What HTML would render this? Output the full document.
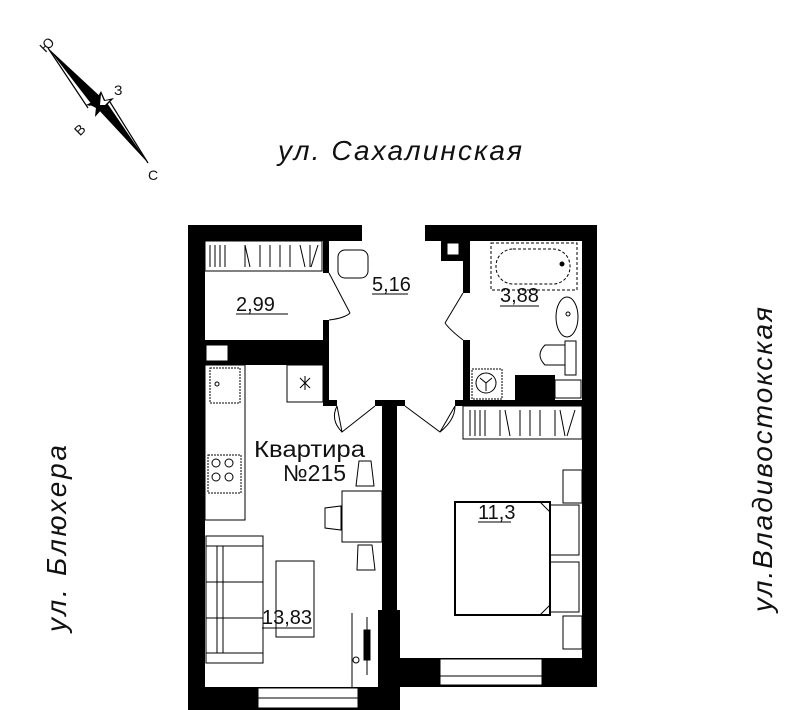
<!DOCTYPE html>
<html><head><meta charset="utf-8"><style>
html,body{margin:0;padding:0;background:#fff;width:804px;height:710px;overflow:hidden}
svg{display:block}
text{font-family:"Liberation Sans",sans-serif;fill:#111}
</style></head><body>
<svg width="804" height="710" viewBox="0 0 804 710" xmlns="http://www.w3.org/2000/svg">
<!-- compass -->
<g>
<polygon points="48,48 104,100 96,110" fill="#000"/>
<line x1="48" y1="48" x2="88" y2="108" stroke="#000" stroke-width="1.2"/>
<polygon points="148,163 97,108 105,100" fill="#000"/>
<line x1="148" y1="163" x2="110" y2="102" stroke="#000" stroke-width="1.2"/>
<polygon points="101,91 105,100 114,98 107,105 111,114 102,109 95,117 96,107 86,105 96,100" fill="#000"/>
<polygon points="101,94 104,101 110,100 105,105 100,105" fill="#fff"/>
<polygon points="90,105 96,108 95,113" fill="#fff"/>
<text x="40" y="52" font-size="14" transform="rotate(-45 44 46)">Ю</text>
<text x="114" y="95" font-size="14">З</text>
<text x="74" y="134" font-size="14" transform="rotate(-45 80 128)">В</text>
<text x="148" y="180" font-size="14">С</text>
</g>
<!-- street names -->
<text x="278" y="160" font-size="28" font-style="italic" textLength="244" lengthAdjust="spacing">ул. Сахалинская</text>
<text transform="translate(66,632) rotate(-90)" font-size="28" font-style="italic" textLength="187" lengthAdjust="spacing">ул. Блюхера</text>
<text transform="translate(772,612) rotate(-90)" font-size="28" font-style="italic" textLength="305" lengthAdjust="spacing">ул.Владивостокская</text>

<!-- walls -->
<g fill="#000">
<rect x="188" y="225" width="174" height="16"/>
<rect x="425" y="225" width="172" height="16"/>
<rect x="188" y="225" width="17" height="485"/>
<rect x="582" y="225" width="15" height="462"/>
<rect x="188" y="687" width="190" height="23"/>
<rect x="397" y="658" width="200" height="29"/>
<rect x="382" y="402" width="15" height="308"/>
<rect x="378" y="610" width="22" height="100"/>
<rect x="205" y="340" width="120" height="25"/>
<rect x="323" y="241" width="6" height="32"/>
<rect x="323" y="320" width="6" height="84"/>
<rect x="463" y="241" width="7" height="52"/>
<rect x="463" y="340" width="7" height="66"/>
<rect x="463" y="400" width="119" height="6"/>
<rect x="515" y="375" width="40" height="25"/>
<rect x="441" y="241" width="24" height="20"/>
<rect x="323" y="400" width="14" height="6"/>
<rect x="375" y="400" width="30" height="6"/>
<rect x="455" y="400" width="10" height="6"/>
</g>
<!-- windows -->
<g fill="#fff" stroke="#000" stroke-width="1">
<rect x="206" y="345" width="22" height="16"/>
<rect x="258" y="688" width="100" height="20"/>
<rect x="440" y="659" width="102" height="26"/>
<rect x="555" y="380" width="26" height="18"/>
<rect x="447" y="243" width="12" height="12"/>
</g>
<line x1="258" y1="698" x2="358" y2="698" stroke="#000"/>
<line x1="440" y1="676" x2="542" y2="676" stroke="#000"/>
<g stroke="#000" stroke-width="1" fill="none">
<rect x="205" y="241" width="117" height="30"/>
<path d="M210,245v22M215,245v22M220,245v22M225,245v22M245,245v22M260,245v22M270,245v22M280,245v22M290,245v22M310,245v22M245,245l5,22M300,245l5,22M318,245l-7,22"/>
<rect x="463" y="406" width="119" height="33"/>
<path d="M470,410v26M475,410v26M480,410v26M485,410v26M500,410v26M520,410v26M530,410v26M540,410v26M505,410l5,26M555,410v26M575,410l-8,26M560,410l5,26"/>
<rect x="338" y="250" width="30" height="28" rx="7"/>
<path d="M329,273 L350,313 M329,320 Q345,318 350,313"/>
<path d="M463,293 L445,323 M463,340 Q450,330 445,323"/>
<path d="M337,406 L342,432 L375,406 M342,432 Q330,420 337,406"/>
<path d="M405,406 L440,432 L455,406 M440,432 Q455,420 455,406"/>
<rect x="205" y="365" width="40" height="155"/>
<rect x="210" y="368" width="30" height="35" stroke-dasharray="2,1"/>
<circle cx="217" cy="384" r="2"/>
<rect x="208" y="455" width="33" height="38" stroke-dasharray="2,1"/>
<circle cx="216" cy="463" r="4"/><circle cx="229" cy="463" r="4"/><circle cx="216" cy="477" r="4"/><circle cx="229" cy="477" r="4"/>
<rect x="287" y="365" width="36" height="37"/>
<path d="M300,378l10,10M310,378l-10,10M305,376v14"/>
<rect x="342" y="491" width="40" height="51"/>
<path d="M359,461h12l3,25h-18z M325,508v20l16,2v-24z M358,545h14l3,25h-18z"/>
<rect x="206" y="536" width="57" height="10"/>
<rect x="206" y="546" width="57" height="107"/>
<rect x="206" y="653" width="57" height="10"/>
<path d="M217,546v107M223,546v107M206,582h57M206,618h57"/>
<rect x="276" y="561" width="38" height="76"/>
<path d="M352,613v75 M367,617v58"/>
<rect x="364" y="630" width="6" height="30" fill="#000"/>
<circle cx="356" cy="660" r="3"/>
<rect x="491" y="243" width="86" height="47" stroke-dasharray="3,2"/>
<rect x="496" y="249" width="74" height="35" rx="17" stroke-dasharray="3,2"/>
<circle cx="562" cy="264" r="2" fill="#000"/>
<ellipse cx="567" cy="317" rx="11" ry="20"/>
<circle cx="568" cy="314" r="2"/>
<path d="M565,341h11v34h-11z M565,345h-20q-10,10 0,20h20"/>
<rect x="472" y="369" width="30" height="30" stroke-dasharray="2,1"/>
<circle cx="486" cy="383" r="10"/>
<path d="M486,383v8M486,383l-6,-5M486,383l6,-5"/>
<rect x="455" y="502" width="95" height="113" stroke-width="2"/>
<path d="M540,502l10,10 M540,615l10,-10"/>
<rect x="550" y="505" width="29" height="50"/><rect x="550" y="562" width="29" height="50"/>
<rect x="563" y="470" width="19" height="33"/><rect x="563" y="616" width="19" height="33"/>
<path d="M236,314h52 M372,294h36 M500,306h39 M478,522h33 M262,628h50"/>
</g>
<text x="236" y="311" font-size="20">2,99</text>
<text x="372" y="291" font-size="20">5,16</text>
<text x="500" y="302" font-size="20">3,88</text>
<text x="478" y="519" font-size="20">11,3</text>
<text x="262" y="624" font-size="20">13,83</text>
<text x="254" y="457" font-size="23" textLength="111" lengthAdjust="spacingAndGlyphs">Квартира</text>
<text x="283" y="481" font-size="23">№215</text>
</svg>
</body></html>
